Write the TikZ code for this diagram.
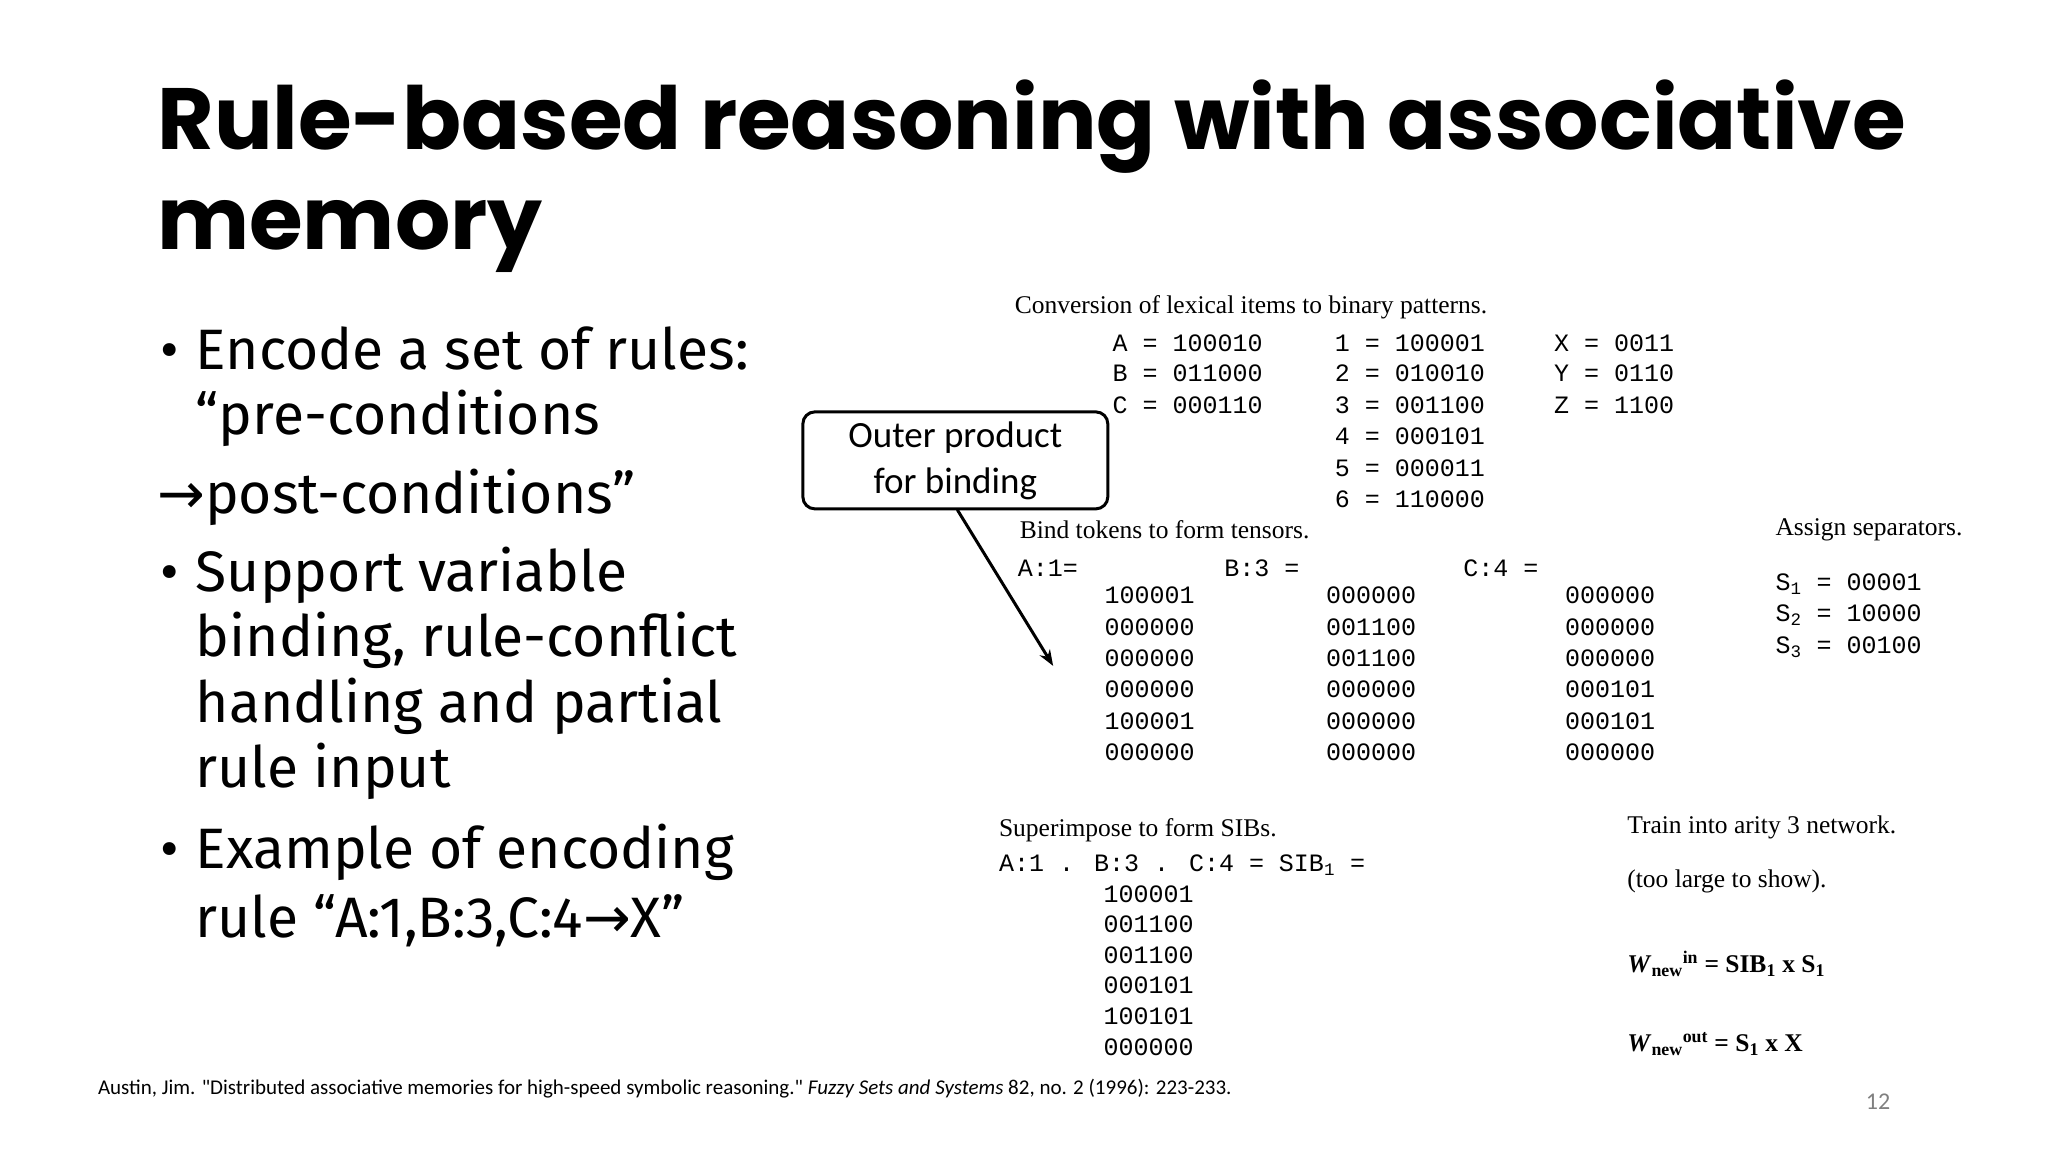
\documentclass[tikz,border=0pt]{standalone}
\usepackage{fontspec}
\setmainfont{Liberation Serif}
\newfontfamily\titlef{Poppins}
\newfontfamily\bodyf{Fira Sans}
\newfontfamily\monof{Liberation Mono}
\newfontfamily\calf{Carlito}
\usetikzlibrary{arrows.meta}
\tikzset{
 ttl/.style={anchor=base west,inner sep=0,font=\titlef\bfseries\fontsize{87}{100}\selectfont},
 bul/.style={anchor=base west,inner sep=0,font=\bodyf\fontsize{57}{60}\selectfont},
 ser/.style={anchor=west,inner sep=0,font=\fontsize{25.5}{28}\selectfont},
 mon/.style={anchor=west,inner sep=0,font=\monof\fontsize{25}{28}\selectfont},
 callout/.style={draw,line width=3pt,rounded corners=12pt,minimum width=305pt,minimum height=97pt,align=center,font=\calf\fontsize{37}{46}\selectfont}
}
\begin{document}
\begin{tikzpicture}[x=0.988pt,y=-0.988pt]
\useasboundingbox[fill=white] (0,0) rectangle (2073,1166);
\node[ttl] (t1) at (159,151) {Rule-based reasoning with associative};
\node[ttl] (t2) at (159,253) {memory};
\node[bul] (b1) at (162,374) {•};
\node[bul] (l1) at (198,374) {Encode a set of rules:};
\node[bul] (l2) at (198,440) {“pre-conditions};
\node[bul] (l3) at (159,520) {\fontspec{DejaVu Sans}→\bodyf post-conditions”};
\node[bul] (b2) at (162,599) {•};
\node[bul] (l4) at (198,599) {Support variable};
\node[bul] (l5) at (198,665) {binding, rule-conflict};
\node[bul] (l6) at (198,731) {handling and partial};
\node[bul] (l7) at (198,797) {rule input};
\node[bul] (b3) at (162,879) {•};
\node[bul] (l8) at (198,879) {Example of encoding};
\node[bul] (l9) at (198,949) {rule “A:1,B:3,C:4\fontspec{DejaVu Sans}→\bodyf X”};
% callout
\node[callout] (box) at (967,466) {Outer product\\for binding};
\coordinate (tip) at (1066,674);
\draw[line width=3pt,-{Stealth[length=16pt,width=12pt]}] (969,516) -- (tip);
% paper
\node[ser] (h1) at (1027,311) {Conversion of lexical items to binary patterns.};
\node[mon] (a1) at (1126,347) {A = 100010};
\node[mon] (a2) at (1126,378) {B = 011000};
\node[mon] (a3) at (1126,410) {C = 000110};
\node[mon] (n1) at (1351,347) {1 = 100001};
\node[mon] (n2) at (1351,378) {2 = 010010};
\node[mon] (n3) at (1351,410) {3 = 001100};
\node[mon] (n4) at (1351,442) {4 = 000101};
\node[mon] (n5) at (1351,474) {5 = 000011};
\node[mon] (n6) at (1351,505) {6 = 110000};
\node[mon] (x1) at (1573,347) {X = 0011};
\node[mon] (x2) at (1573,378) {Y = 0110};
\node[mon] (x3) at (1573,410) {Z = 1100};
\node[ser] (h2) at (1032,536) {Bind tokens to form tensors.};
\node[mon] (k1) at (1030,575) {A:1=};
\node[mon] (k2) at (1239,575) {B:3 =};
\node[mon] (k3) at (1481,575) {C:4 =};
\node[mon,anchor=north west,align=left,font=\monof\fontsize{25}{31.4}\selectfont] (m1) at (1118,594) {100001\\000000\\000000\\000000\\100001\\000000};
\node[mon,anchor=north west,align=left,font=\monof\fontsize{25}{31.4}\selectfont] (m2) at (1342,594) {000000\\001100\\001100\\000000\\000000\\000000};
\node[mon,anchor=north west,align=left,font=\monof\fontsize{25}{31.4}\selectfont] (m3) at (1584,594) {000000\\000000\\000000\\000101\\000101\\000000};
\node[ser] (h3) at (1797,536) {Assign separators.};
\node[mon] (s1) at (1797,591) {S\textsubscript{1} = 00001};
\node[mon] (s2) at (1797,623) {S\textsubscript{2} = 10000};
\node[mon] (s3) at (1797,655) {S\textsubscript{3} = 00100};
\node[ser] (h4) at (1011,840) {Superimpose to form SIBs.};
\node[mon] (sib) at (1011,876) {A:1 . B:3 . C:4 = SIB\textsubscript{1} =};
\node[mon,anchor=north west,align=left,font=\monof\fontsize{25}{30.6}\selectfont] (m4) at (1117,896) {100001\\001100\\001100\\000101\\100101\\000000};
\node[ser] (h5) at (1647,838) {Train into arity 3 network.};
\node[ser] (h6) at (1647,892) {(too large to show).};
\node[ser] (w1) at (1647,976) {\textbf{\textit{W}\textsubscript{new}\textsuperscript{in} = SIB\textsubscript{1} x S\textsubscript{1}}};
\node[ser] (w2) at (1647,1057) {\textbf{\textit{W}\textsubscript{new}\textsuperscript{out} = S\textsubscript{1} x X}};
\node[anchor=west,inner sep=0,font=\calf\fontsize{21}{24}\selectfont] (cit) at (99,1102) {Austin, Jim. "Distributed associative memories for high-speed symbolic reasoning." \textit{Fuzzy Sets and Systems} 82, no. 2 (1996): 223-233.};
\node[inner sep=0,text=gray,font=\calf\fontsize{24}{26}\selectfont] (pg) at (1901,1115) {12};
\end{tikzpicture}
\end{document}
